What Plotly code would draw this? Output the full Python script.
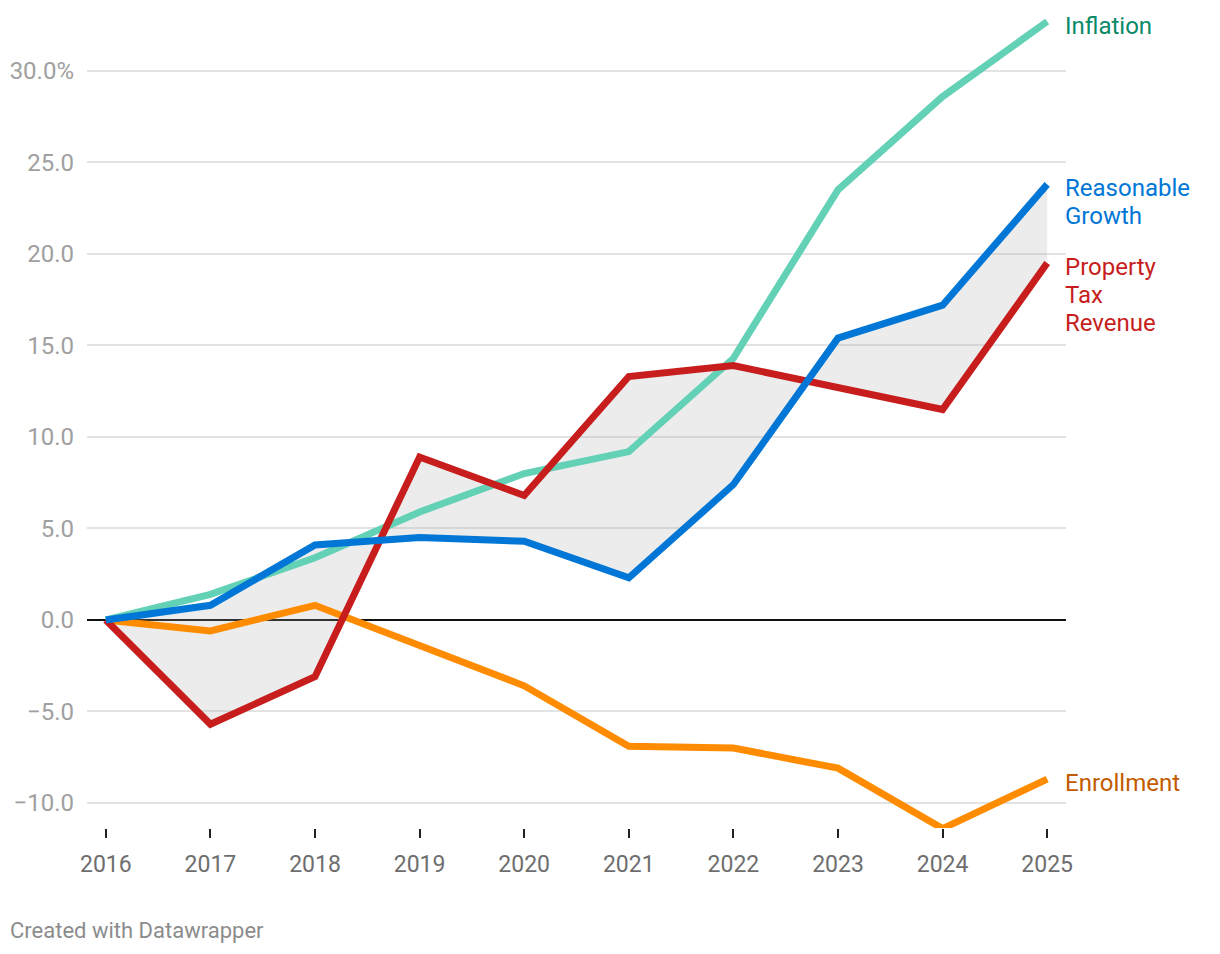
import plotly.graph_objects as go

years = [2016, 2017, 2018, 2019, 2020, 2021, 2022, 2023, 2024, 2025]
inflation = [0.0, 1.4, 3.4, 5.9, 8.0, 9.2, 14.3, 23.5, 28.6, 32.7]
reasonable_growth = [0.0, 0.8, 4.1, 4.5, 4.3, 2.3, 7.4, 15.4, 17.2, 23.8]
property_tax = [0.0, -5.7, -3.1, 8.9, 6.8, 13.3, 13.9, 12.7, 11.5, 19.5]
enrollment = [0.0, -0.6, 0.8, -1.4, -3.6, -6.9, -7.0, -8.1, -11.4, -8.7]

y_tickvals = [-10, -5, 0, 5, 10, 15, 20, 25, 30]
y_ticktext = ["\u221210.0", "\u22125.0", "0.0", "5.0", "10.0", "15.0", "20.0", "25.0", "30.0%"]

series = [
    (["Enrollment"], enrollment, "#ff8c00", "#c25a00"),
    (["Inflation"], inflation, "#63d1b5", "#0b8a68"),
    (["Property", "Tax", "Revenue"], property_tax, "#c71e1d", "#c71e1d"),
    (["Reasonable", "Growth"], reasonable_growth, "#0077d6", "#0077d6"),
]

fig = go.Figure()

# shaded band between Reasonable Growth and Property Tax Revenue
fig.add_trace(go.Scatter(x=years, y=reasonable_growth, mode="lines",
                         line=dict(width=0), hoverinfo="skip", showlegend=False))
fig.add_trace(go.Scatter(x=years, y=property_tax, mode="lines", fill="tonexty",
                         fillcolor="rgba(170,170,170,0.22)",
                         line=dict(width=0), hoverinfo="skip", showlegend=False))

for lines, vals, color, _ in series:
    fig.add_trace(go.Scatter(x=years, y=vals, mode="lines", name=" ".join(lines),
                             line=dict(color=color, width=7), cliponaxis=False,
                             showlegend=False))

for lines, vals, _, tcolor in series:
    for i, ln in enumerate(lines):
        fig.add_annotation(x=years[-1], y=vals[-1], text=ln, showarrow=False,
                           xanchor="left", yanchor="middle", align="left",
                           xshift=16, yshift=-4 - 28 * i,
                           font=dict(family="Roboto", size=24, color=tcolor))

fig.add_annotation(text="Created with Datawrapper", xref="paper", yref="paper",
                   x=-79/979, y=-102/818, xanchor="left", yanchor="middle",
                   showarrow=False, font=dict(family="Roboto", size=22, color="#8c8c8c"))

fig.update_layout(
    width=1220, height=954,
    margin=dict(l=79, r=162, t=2, b=134),
    paper_bgcolor="white", plot_bgcolor="white",
    font=dict(family="Roboto"),
    xaxis=dict(range=[2015.82, 2025.18], tickvals=years, ticktext=[str(y) for y in years],
               showgrid=False, zeroline=False, showline=False,
               ticks="outside", ticklen=9, tickwidth=2, tickcolor="#222222",
               ticklabelstandoff=6,
               tickfont=dict(family="Roboto", size=23, color="#6e6e6e")),
    yaxis=dict(range=[-11.37, 33.33], tickvals=y_tickvals, ticktext=y_ticktext,
               showgrid=True, gridcolor="#e3e3e3", gridwidth=1.5,
               zeroline=True, zerolinecolor="#111111", zerolinewidth=1.5,
               showline=False, ticks="", ticklabelstandoff=12,
               tickfont=dict(family="Roboto", size=24, color="#a0a0a0")),
)

fig.write_html("out.html")
